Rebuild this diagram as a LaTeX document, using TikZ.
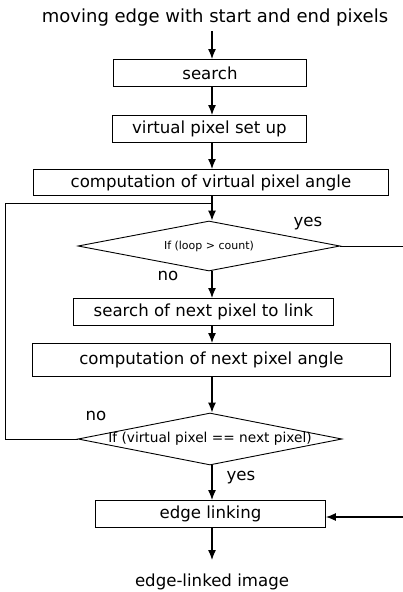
\documentclass[tikz,border=0pt]{standalone}
\usepackage{fontspec}
\setmainfont{DejaVu Sans}
\usetikzlibrary{shapes.geometric,arrows.meta}
\begin{document}
\begin{tikzpicture}[x=1pt,y=-1pt,
  box/.style={draw,line width=0.9pt,inner sep=0pt,anchor=north west},
  dia/.style={draw,line width=0.9pt,diamond,inner sep=0pt},
  arr/.style={line width=1.2pt,-{Latex[length=10pt,width=8pt]}},
  ln/.style={line width=0.9pt},
  txt/.style={font=\fontsize{16.6}{18}\selectfont},
  ttxt/.style={font=\fontsize{18}{20}\selectfont},
  stxt/.style={font=\fontsize{11}{13}\selectfont},
  mtxt/.style={font=\fontsize{13.7}{15}\selectfont}]
\useasboundingbox (0,0) rectangle (403,592);
\node[ttxt] (start) at (215,18) {moving edge with start and end pixels};
\node[box,minimum width=193pt,minimum height=27pt] (search) at (113,59) {};
\node[txt] at (search.center) {search};
\node[box,minimum width=194pt,minimum height=27pt] (vps) at (112,115) {};
\node[txt] at (vps.center) {virtual pixel set up};
\node[box,minimum width=355pt,minimum height=26pt] (cva) at (33,169) {};
\node[txt] at (cva.center) {computation of virtual pixel angle};
\node[dia,minimum width=262pt,minimum height=50pt] (d1) at (209,246) {};
\node[stxt] at (d1.center) {If (loop > count)};
\node[box,minimum width=260pt,minimum height=27pt] (snp) at (73,298) {};
\node[txt] at (snp.center) {search of next pixel to link};
\node[box,minimum width=358pt,minimum height=33pt] (cna) at (32,343) {};
\node[txt] at (cna.center) {computation of next pixel angle};
\node[dia,minimum width=264pt,minimum height=52pt] (d2) at (210,439) {};
\node[mtxt] at (d2.center) {If (virtual pixel == next pixel)};
\node[box,minimum width=230pt,minimum height=27pt] (el) at (95,500) {};
\node[txt] at (el.center) {edge linking};
\node[txt] (out) at (212,582) {edge-linked image};
\coordinate (r1) at (403,246);
\coordinate (r2) at (403,517);
\coordinate (endarr) at (212,560);
\coordinate (loopL) at (5,439);
\coordinate (loopT) at (5,203);
\coordinate (loopJ) at (212,203);
\draw[arr] (212,31) -- (search.north -| 212,0);
\draw[arr] (search.south -| 212,0) -- (vps.north -| 212,0);
\draw[arr] (vps.south -| 212,0) -- (cva.north -| 212,0);
\draw[arr] (cva.south -| 212,0) -- (d1.north -| 212,0);
\draw[arr] (d1.south -| 212,0) -- (snp.north -| 212,0);
\draw[arr] (snp.south -| 212,0) -- (cna.north -| 212,0);
\draw[arr] (cna.south -| 212,0) -- (d2.north -| 212,0);
\draw[arr] (d2.south -| 212,0) -- (el.north -| 212,0);
\draw[arr] (el.south -| 212,0) -- (endarr);
\draw[ln] (d2.west) -- (loopL) -- (loopT) -- (loopJ);
\draw[ln] (d1.east) -- (r1);
\draw[arr] (r2) -- (el.east |- r2);
\node[txt] at (308,224) {yes};
\node[txt] at (168,276) {no};
\node[txt] at (96,416) {no};
\node[txt] at (241,478) {yes};
\end{tikzpicture}
\end{document}
